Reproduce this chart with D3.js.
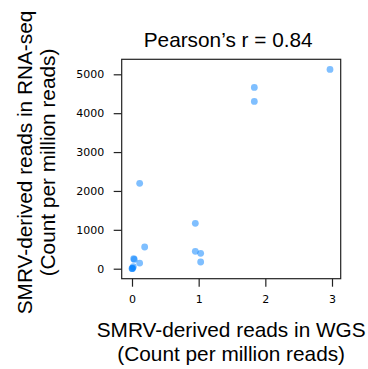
<!DOCTYPE html>
<html>
<head>
<meta charset="utf-8">
<script src="https://cdn.jsdelivr.net/npm/d3@7"></script>
<style>
  body { margin: 0; background: #fff; }
  .tick text { font-family: "DejaVu Sans", sans-serif; font-size: 11px; fill: #000; }
  .tick line { stroke: #222; stroke-width: 1.2; }
  .lbl { font-family: "Liberation Sans", Arial, sans-serif; font-size: 20.8px; fill: #000; }
</style>
</head>
<body>
<div id="container"></div>
<script>
/* CONSTANTS AND GLOBALS */
const width = 368
const height = 369
const margin = { top: 59.3, bottom: 90.3, left: 121.7, right: 27.3 }

// DATA
const wgs   = [2.97, 1.835, 1.835, 0.115, 0.95, 0.95, 1.03, 1.03, 0.19, 0.025, 0.035, 0.115, 0.0, 0.005, 0.01, 0.02]
const rnaseq = [5126, 4663, 4303, 2195, 1167, 447, 396, 172, 558, 257, 238, 146, 5, 0, 15, 50]
const xTicks = [0, 1, 2, 3]
const yTicks = [0, 1000, 2000, 3000, 4000, 5000]

const data = wgs.map((x, i) => ({ x: x, y: rnaseq[i] }))

// SCALES
const xScale = d3.scaleLinear()
  .domain([-0.1545, 3.1305])
  .range([margin.left, width - margin.right])

const yScale = d3.scaleLinear()
  .domain([-257, 5386])
  .range([height - margin.bottom, margin.top])

// CREATE SVG ELEMENT
const svg = d3.select("#container")
  .append("svg")
  .attr("width", width)
  .attr("height", height)

// AXES
const xAxis = d3.axisBottom(xScale)
  .tickValues(xTicks)
  .tickFormat(d3.format("d"))
  .tickSize(8)
  .tickPadding(9)

svg.append("g")
  .attr("transform", `translate(0, ${height - margin.bottom})`)
  .call(xAxis)
  .call(g => g.select(".domain").remove())

const yAxis = d3.axisLeft(yScale)
  .tickValues(yTicks)
  .tickFormat(d3.format("d"))
  .tickSize(8)
  .tickPadding(9.5)

svg.append("g")
  .attr("transform", `translate(${margin.left}, 0)`)
  .call(yAxis)
  .call(g => g.select(".domain").remove())

// FRAME
svg.append("rect")
  .attr("x", margin.left)
  .attr("y", margin.top)
  .attr("width", width - margin.left - margin.right)
  .attr("height", height - margin.top - margin.bottom)
  .attr("fill", "none")
  .attr("stroke", "#222")
  .attr("stroke-width", 1.2)

// POINTS
svg.selectAll(".dot")
  .data(data)
  .join("circle")
  .attr("class", "dot")
  .attr("cx", d => xScale(d.x))
  .attr("cy", d => yScale(d.y))
  .attr("r", 3.4)
  .attr("fill", "#0080ff")
  .attr("fill-opacity", 0.5)

// TITLE
const cx = (margin.left + width - margin.right) / 2
svg.append("text")
  .attr("class", "lbl")
  .attr("x", cx - 3)
  .attr("y", 47.3)
  .attr("text-anchor", "middle")
  .text("Pearson\u2019s r = 0.84")

// X LABEL
svg.append("text")
  .attr("class", "lbl")
  .attr("x", cx)
  .attr("y", 336.7)
  .attr("text-anchor", "middle")
  .text("SMRV-derived reads in WGS")

svg.append("text")
  .attr("class", "lbl")
  .attr("x", cx)
  .attr("y", 361)
  .attr("text-anchor", "middle")
  .text("(Count per million reads)")

// Y LABEL
svg.append("text")
  .attr("class", "lbl")
  .attr("transform", `translate(31.7, 162.5) rotate(-90)`)
  .attr("text-anchor", "middle")
  .text("SMRV-derived reads in RNA-seq")

svg.append("text")
  .attr("class", "lbl")
  .attr("transform", `translate(55, 162.5) rotate(-90)`)
  .attr("text-anchor", "middle")
  .text("(Count per million reads)")
</script>
</body>
</html>
